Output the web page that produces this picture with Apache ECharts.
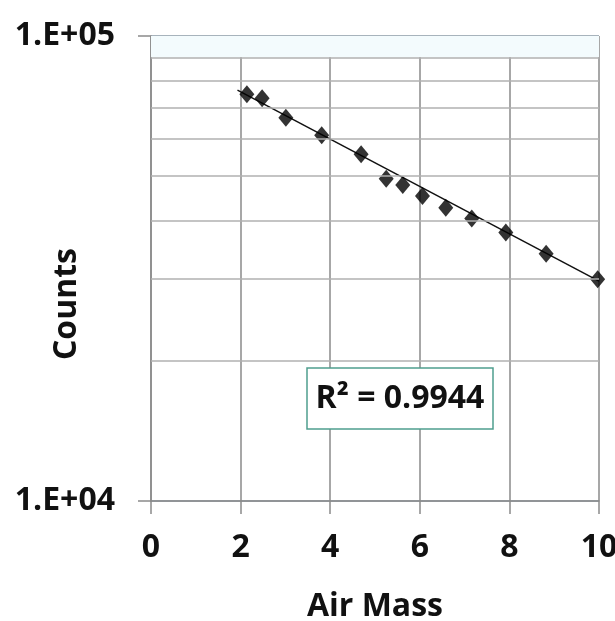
<!DOCTYPE html>
<html>
<head>
<meta charset="utf-8">
<script src="https://cdn.jsdelivr.net/npm/echarts@6/dist/echarts.min.js"></script>
<style>html,body{margin:0;padding:0;background:#fff}#c{width:615px;height:621px}</style>
</head>
<body>
<div id="c"></div>
<script>
// Data
const airMass = [2.14, 2.48, 3.01, 3.81, 4.69, 5.25, 5.62, 6.06, 6.58, 7.16, 7.92, 8.82, 9.97];
const counts  = [74900, 73500, 66700, 61200, 55700, 49300, 47800, 45300, 42700, 40500, 37800, 34000, 30000];
const trendX = [1.93, 10];
const trendY = [76500, 29700];
const yTickValues = [10000, 100000];
const yTickLabels = ['1.E+04', '1.E+05'];
const minorGridValues = [20000, 30000, 40000, 50000, 60000, 70000, 80000, 90000];
const xAxisTitle = 'Air Mass';
const yAxisTitle = 'Counts';
const rSquaredText = 'R² = 0.9944';

const FONT = '"Open Sans", "Noto Sans", sans-serif';
const chart = echarts.init(document.getElementById('c'), null, {renderer: 'canvas'});

chart.setOption({
  animation: false,
  backgroundColor: '#ffffff',
  grid: {left: 151, right: 16, top: 36, bottom: 120, outerBoundsMode: 'none'},
  xAxis: {
    type: 'value', min: 0, max: 10, interval: 2,
    name: xAxisTitle, nameLocation: 'middle', nameGap: 90,
    nameTextStyle: {fontFamily: FONT, fontWeight: 'bold', fontSize: 32, color: '#111'},
    axisLine: {show: true, lineStyle: {color: '#8a8a8a', width: 1.5}},
    axisTick: {show: true, length: 13, lineStyle: {color: '#8a8a8a', width: 1.5}},
    axisLabel: {fontFamily: FONT, fontWeight: 'bold', fontSize: 32, color: '#111', margin: 31},
    splitLine: {show: true, lineStyle: {color: '#8a8a8a', width: 1.5}}
  },
  yAxis: {
    type: 'log', logBase: 10, min: 10000, max: 100000,
    axisLine: {show: true, lineStyle: {color: '#8a8a8a', width: 1.5}},
    axisTick: {show: true, length: 13, lineStyle: {color: '#8a8a8a', width: 1.5}},
    axisLabel: {
      fontFamily: FONT, fontWeight: 'bold', fontSize: 32, color: '#111', margin: 36,
      formatter: function (v) {
        const i = yTickValues.findIndex(t => Math.abs(t - v) / t < 1e-6);
        return i >= 0 ? yTickLabels[i] : '';
      }
    },
    splitLine: {show: true, lineStyle: {color: '#8a9aa6', width: 1.5}}
  },
  series: [
    {
      type: 'line', data: [], silent: true, z: 1,
      markArea: {
        silent: true,
        itemStyle: {color: '#f3fbfd'},
        data: [[{yAxis: 90000}, {yAxis: 100000}]]
      },
      markLine: {
        silent: true, symbol: 'none', animation: false,
        label: {show: false},
        lineStyle: {type: 'solid', color: '#b0b0b0', width: 1.5},
        data: minorGridValues.map(v => ({yAxis: v}))
      }
    },
    {
      type: 'line', z: 2, symbol: 'none', silent: true,
      lineStyle: {color: '#111', width: 1.5},
      data: trendX.map((x, i) => [x, trendY[i]])
    },
    {
      type: 'scatter', z: 3, symbol: 'diamond', symbolSize: [15, 18],
      itemStyle: {color: '#000'},
      data: airMass.map((x, i) => [x, counts[i]])
    }
  ],
  graphic: [
    {
      type: 'text', z: 11, x: 67, y: 304, rotation: Math.PI / 2,
      style: {text: yAxisTitle, fill: '#111', font: 'bold 32px ' + FONT, align: 'center', verticalAlign: 'middle'}
    },
    {
      type: 'rect', z: 10,
      shape: {x: 307, y: 368, width: 186, height: 61},
      style: {fill: '#ffffff', stroke: '#4f9e8e', lineWidth: 1.5}
    },
    {
      type: 'text', z: 11, x: 400, y: 399,
      style: {text: rSquaredText, fill: '#111', font: 'bold 32px ' + FONT, align: 'center', verticalAlign: 'middle'}
    }
  ]
});
</script>
</body>
</html>
